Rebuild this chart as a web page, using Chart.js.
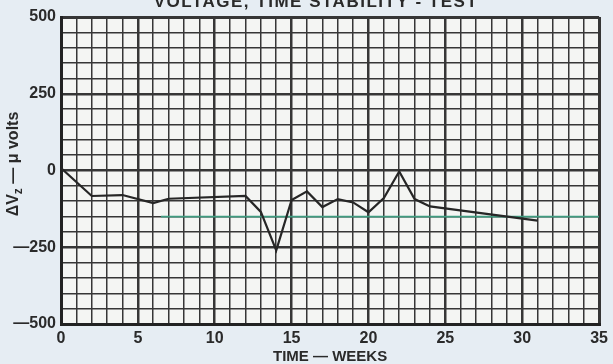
<!DOCTYPE html>
<html>
<head>
<meta charset="utf-8">
<script src="https://cdn.jsdelivr.net/npm/chart.js@4"></script>
<style>
  html, body { margin: 0; padding: 0; background: #e6edf3; }
  #wrap { position: relative; width: 613px; height: 364px; }
</style>
</head>
<body>
<div id="wrap"><canvas id="c" width="613" height="364"></canvas></div>
<script>
// Zener voltage drift over time
const weeks   = [0, 2, 4, 6, 7, 12, 13, 14, 15, 16, 17, 18, 19, 20, 21, 22, 23, 24, 31];
const deltaVz = [8, -83, -80, -106, -92, -83, -135, -260, -96, -68, -119, -93, -104, -136, -90, -3, -93, -117, -163];

// horizontal reference level
const refWeeks = [6.5, 35];
const refLevel = [-150, -150];

const xTicks = [0, 5, 10, 15, 20, 25, 30, 35];
const yTicks = [500, 250, 0, -250, -500];

const FONT = "'Liberation Sans', Arial, sans-serif";
const INK = '#2a2a2a';

const plotBg = {
  id: 'plotBg',
  beforeDraw(chart) {
    const { ctx, chartArea: a } = chart;
    ctx.save();
    ctx.fillStyle = '#f4f5f3';
    ctx.fillRect(a.left, a.top, a.right - a.left, a.bottom - a.top);
    ctx.restore();
  }
};

const titles = {
  id: 'titles',
  afterDraw(chart) {
    const { ctx, chartArea: a } = chart;
    ctx.save();
    ctx.fillStyle = INK;
    // chart heading
    ctx.font = `bold 17px ${FONT}`;
    ctx.letterSpacing = '1.5px';
    ctx.textAlign = 'center';
    ctx.textBaseline = 'alphabetic';
    ctx.fillText('VOLTAGE, TIME STABILITY - TEST', 316, 7);
    ctx.letterSpacing = '0px';
    // x-axis title
    ctx.font = `bold 15px ${FONT}`;
    ctx.fillText('TIME \u2014 WEEKS', (a.left + a.right) / 2, 361);
    // y-axis title with subscript
    ctx.translate(18, 164);
    ctx.rotate(-Math.PI / 2);
    const big = `bold 16px ${FONT}`, small = `bold 12px ${FONT}`;
    const p1 = '\u0394V', p2 = 'z', p3 = ' \u2014 \u03bc volts';
    ctx.font = big; const w1 = ctx.measureText(p1).width, w3 = ctx.measureText(p3).width;
    ctx.font = small; const w2 = ctx.measureText(p2).width;
    let x = -(w1 + w2 + w3) / 2;
    ctx.textAlign = 'left';
    ctx.font = big; ctx.fillText(p1, x, 0); x += w1;
    ctx.font = small; ctx.fillText(p2, x, 4); x += w2;
    ctx.font = big; ctx.fillText(p3, x, 0);
    ctx.restore();
  }
};

function gridWidth(v, major, lo, hi) {
  if (v === lo || v === hi) return 3;
  return (Math.abs(v) % major === 0) ? 2.5 : 1.5;
}

new Chart(document.getElementById('c'), {
  type: 'line',
  data: {
    datasets: [
      {
        data: refWeeks.map((w, i) => ({ x: w, y: refLevel[i] })),
        borderColor: '#3f9c80',
        borderWidth: 1.8,
        pointRadius: 0,
        order: 2
      },
      {
        data: weeks.map((w, i) => ({ x: w, y: deltaVz[i] })),
        borderColor: '#262626',
        borderWidth: 2.2,
        pointRadius: 0,
        tension: 0,
        order: 1
      }
    ]
  },
  options: {
    responsive: false,
    animation: false,
    devicePixelRatio: 1,
    layout: { padding: { top: 17, right: 11, left: 0, bottom: 0 } },
    plugins: { legend: { display: false }, tooltip: { enabled: false } },
    scales: {
      x: {
        type: 'linear', min: 0, max: 35,
        afterFit(s) { s.height = 40; },
        afterBuildTicks(s) { s.ticks = Array.from({ length: 36 }, (_, i) => ({ value: i })); },
        ticks: {
          autoSkip: false, maxRotation: 0, padding: 5, color: INK,
          font: { family: FONT, size: 16, weight: 'bold' },
          callback: v => (xTicks.includes(v) ? String(v) : '')
        },
        grid: {
          drawTicks: false, color: '#363636',
          lineWidth: c => gridWidth(c.tick.value, 5, 0, 35)
        },
        border: { display: true, color: '#222', width: 3 }
      },
      y: {
        type: 'linear', min: -500, max: 500,
        afterFit(s) { s.width = 61; },
        afterBuildTicks(s) { s.ticks = Array.from({ length: 21 }, (_, i) => ({ value: -500 + i * 50 })); },
        ticks: {
          autoSkip: false, padding: 5, color: INK,
          font: { family: FONT, size: 16, weight: 'bold' },
          callback: v => (yTicks.includes(v) ? (v < 0 ? '\u2014' + (-v) : String(v)) : '')
        },
        grid: {
          drawTicks: false, color: '#363636',
          lineWidth: c => gridWidth(c.tick.value, 250, -500, 500)
        },
        border: { display: true, color: '#222', width: 3 }
      }
    }
  },
  plugins: [plotBg, titles]
});
</script>
</body>
</html>
